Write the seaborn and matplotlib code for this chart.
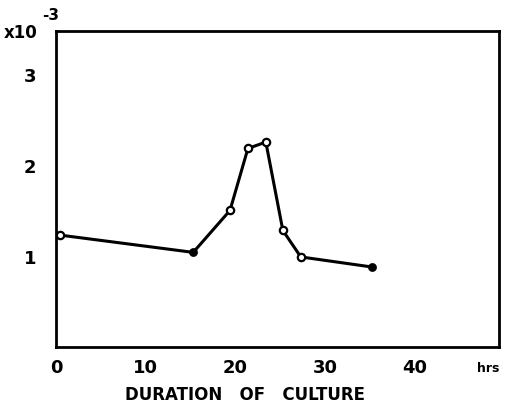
import numpy as np
import pandas as pd
import matplotlib
matplotlib.use("Agg")
import matplotlib.pyplot as plt
import seaborn as sns

# values (x in hrs, y in units of 10^-3)
hours = [0.4, 15.3, 19.4, 21.4, 23.4, 25.3, 27.3, 35.2]
level = [1.23, 1.04, 1.50, 2.18, 2.25, 1.28, 0.99, 0.88]
filled = [False, True, False, False, False, False, False, True]

xticks = [0, 10, 20, 30, 40]
xtick_labels = ["0", "10", "20", "30", "40"]
yticks = [1, 2, 3]
ytick_labels = ["1", "2", "3"]

df = pd.DataFrame({"hours": hours, "level": level, "filled": filled})

sns.set_style("white")
plt.rcParams["font.family"] = ["DejaVu Sans"]
plt.rcParams["text.color"] = "black"
plt.rcParams["xtick.color"] = "black"
plt.rcParams["ytick.color"] = "black"

fig = plt.figure(figsize=(5.05, 4.14), dpi=100)
ax = fig.add_axes([0.111, 0.159, 0.877, 0.764])

sns.lineplot(data=df, x="hours", y="level", color="black", linewidth=2.2, ax=ax)
sns.scatterplot(data=df[~df["filled"]], x="hours", y="level", s=28,
                facecolor="white", edgecolor="black", linewidth=1.6, zorder=3, ax=ax)
sns.scatterplot(data=df[df["filled"]], x="hours", y="level", s=34,
                color="black", edgecolor="black", zorder=3, ax=ax)

ax.set_xlim(0, 49.4)
ax.set_ylim(0, 3.47)
ax.set_xticks(xticks)
ax.set_xticklabels(xtick_labels, fontsize=13, fontweight="bold")
ax.set_yticks(yticks)
ax.set_yticklabels(ytick_labels, fontsize=13, fontweight="bold")
ax.tick_params(direction="in", length=5, width=1.5, pad=8, labelcolor="black")
ax.tick_params(axis="y", pad=14)
for s in ax.spines.values():
    s.set_linewidth(2)
    s.set_color("black")
ax.set_xlabel("")
ax.set_ylabel("")

fig.text(488 / 505, 1 - 369 / 414, "hrs", fontsize=9, fontweight="bold",
         ha="center", va="center")
fig.text(245 / 505, 1 - 395 / 414, "DURATION   OF   CULTURE", fontsize=12,
         fontweight="bold", ha="center", va="center")
fig.text(4 / 505, 1 - 33 / 414, "x10", fontsize=12, fontweight="bold",
         ha="left", va="center")
fig.text(42 / 505, 1 - 15 / 414, "-3", fontsize=11, fontweight="bold",
         ha="left", va="center")

fig.savefig("out.png", dpi=100)
